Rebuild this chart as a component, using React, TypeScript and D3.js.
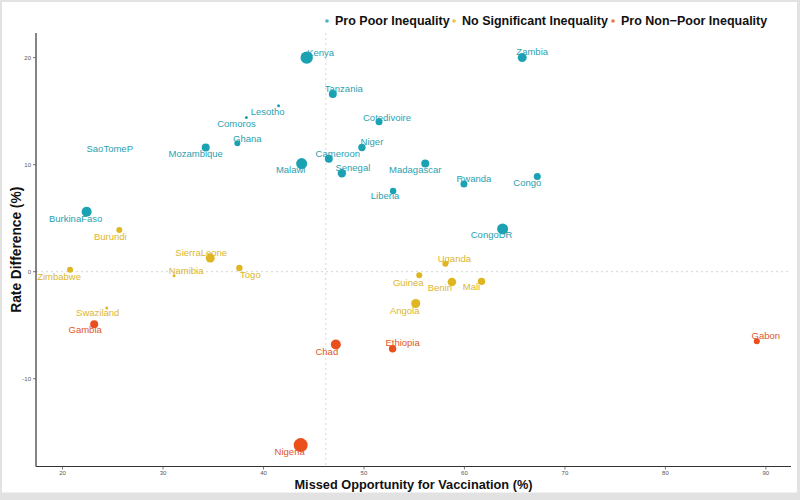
import React from "react";
import * as d3 from "d3";

// ---- data ----
const countries = [
  "Kenya", "Zambia", "Tanzania", "Lesotho", "Comoros", "Ghana", "Cotedivoire", "Niger",
  "Cameroon", "Malawi", "Senegal", "Madagascar", "Liberia", "Mozambique", "SaoTomeP",
  "BurkinaFaso", "Rwanda", "Congo", "CongoDR",
  "Burundi", "SierraLeone", "Zimbabwe", "Namibia", "Togo", "Swaziland", "Uganda",
  "Guinea", "Benin", "Mali", "Angola",
  "Gambia", "Chad", "Ethiopia", "Nigeria", "Gabon",
];
const missedOpportunity = [
  44.3, 65.75, 46.9, 41.5, 38.3, 37.4, 51.5, 49.8,
  46.5, 43.8, 47.8, 56.1, 52.9, 34.25, 24.7,
  22.4, 59.95, 67.25, 63.8,
  25.65, 34.7, 20.75, 31.1, 37.6, 24.4, 58.1,
  55.5, 58.75, 61.7, 55.15,
  23.15, 47.2, 52.85, 43.7, 89.1,
];
const rateDifference = [
  20.0, 20.0, 16.6, 15.5, 14.4, 12.0, 14.0, 11.6,
  10.55, 10.1, 9.2, 10.1, 7.55, 11.6, 11.5,
  5.6, 8.2, 8.9, 4.0,
  3.9, 1.27, 0.19, -0.37, 0.34, -3.4, 0.74,
  -0.34, -0.96, -0.9, -2.97,
  -4.9, -6.8, -7.2, -16.2, -6.5,
];
const sampleWeight = [
  6.2, 4.5, 4.0, 1.5, 1.5, 3.0, 3.5, 3.7,
  4.0, 5.5, 4.2, 4.0, 3.2, 4.0, 0,
  5.0, 3.5, 3.5, 5.5,
  3.0, 4.5, 3.0, 1.5, 3.2, 1.5, 3.0,
  3.0, 4.3, 3.7, 4.5,
  4.0, 5.0, 3.7, 7.0, 3.0,
];
const inequalityGroup = [
  0, 0, 0, 0, 0, 0, 0, 0,
  0, 0, 0, 0, 0, 0, 0,
  0, 0, 0, 0,
  1, 1, 1, 1, 1, 1, 1,
  1, 1, 1, 1,
  2, 2, 2, 2, 2,
];
const groupNames = ["Pro Poor Inequality", "No Significant Inequality", "Pro Non\u2212Poor Inequality"];
const xTicks = [20, 30, 40, 50, 60, 70, 80, 90];
const yTicks = [-10, 0, 10, 20];
const meanMissed = 46.2;

// ---- layout (label offsets from the point, in px) ----
const labelOffsets: Record<string, [number, number]> = {
  Kenya: [14, -5], Zambia: [10, -6], Tanzania: [11, -5], Lesotho: [-11, 6], Comoros: [-10, 6],
  Ghana: [10, -5], Cotedivoire: [8, -4], Niger: [10, -6], Cameroon: [9, -5], Malawi: [-11, 6],
  Senegal: [11, -6], Madagascar: [-10, 6], Liberia: [-8, 5], Mozambique: [-10, 6], SaoTomeP: [0, 0],
  BurkinaFaso: [-11, 7], Rwanda: [10, -5], Congo: [-10, 6], CongoDR: [-11, 6],
  Burundi: [-9, 7], SierraLeone: [-9, -5], Zimbabwe: [-11, 7], Namibia: [12, -5], Togo: [11, 7],
  Swaziland: [-9, 5], Uganda: [9, -5], Guinea: [-11, 7], Benin: [-12, 6], Mali: [-10, 5],
  Angola: [-11, 7], Gambia: [-9, 6], Chad: [-9, 7], Ethiopia: [10, -6], Nigeria: [-11, 7],
  Gabon: [9, -6],
};

const pointColors = ["#1ba2b2", "#e0b522", "#ea4f1c"];
const labelColors = ["#2b9fb0", "#dcb62e", "#e0582a"];

const W = 800;
const H = 500;
const left = 36;
const right = 791;
const top = 33;
const bottom = 466.5;

export default function App() {
  const x = d3.scaleLinear().domain([17.36, 92.5]).range([left, right]);
  const y = d3.scaleLinear().domain([-18.2, 22.3]).range([bottom, top]);
  const r = d3.scaleLinear().domain([0, 7]).range([0, 7]);

  const pts = countries.map((name, i) => ({
    name,
    mx: missedOpportunity[i],
    rd: rateDifference[i],
    w: sampleWeight[i],
    g: inequalityGroup[i],
  }));
  const order = [...pts].sort((a, b) => b.w - a.w);

  const font = "'Liberation Sans', Arial, Helvetica, sans-serif";

  return (
    <svg
      width={W}
      height={H}
      style={{ position: "fixed", top: 0, left: 0 }}
      fontFamily={font}
    >
      <rect x={0} y={0} width={W} height={H} fill="#e2e2e2" />
      <rect x={2} y={2} width={795} height={490.5} fill="#ffffff" />

      {/* reference lines */}
      <line x1={x(meanMissed)} x2={x(meanMissed)} y1={top} y2={bottom} stroke="#d4d4d4" strokeWidth={1} strokeDasharray="2,3" />
      <line x1={left} x2={right} y1={y(0)} y2={y(0)} stroke="#d4d4d4" strokeWidth={1} strokeDasharray="2,3" />

      {/* axes */}
      <line x1={left} x2={left} y1={top} y2={bottom} stroke="#333" strokeWidth={1.2} />
      <line x1={left} x2={right} y1={bottom} y2={bottom} stroke="#333" strokeWidth={1.2} />
      {xTicks.map((t) => (
        <g key={"xt" + t}>
          <line x1={x(t)} x2={x(t)} y1={bottom} y2={bottom + 3} stroke="#555" strokeWidth={0.8} />
          <text x={x(t)} y={bottom + 8.5} fontSize={6} fill="#555" textAnchor="middle">{t}</text>
        </g>
      ))}
      {yTicks.map((t) => (
        <g key={"yt" + t}>
          <line x1={left - 3} x2={left} y1={y(t)} y2={y(t)} stroke="#555" strokeWidth={0.8} />
          <text x={left - 5} y={y(t) + 2.2} fontSize={6} fill="#555" textAnchor="end">
            {t < 0 ? "-" + Math.abs(t) : t}
          </text>
        </g>
      ))}

      {/* axis titles */}
      <text
        x={(left + right) / 2}
        y={488.5}
        fontSize={13.5}
        fontWeight="bold"
        textAnchor="middle"
        fill="#111"
        textLength={238}
        lengthAdjust="spacingAndGlyphs"
      >
        Missed Opportunity for Vaccination (%)
      </text>
      <text
        transform={`translate(21,${(top + bottom) / 2}) rotate(-90)`}
        fontSize={14}
        fontWeight="bold"
        textAnchor="middle"
        fill="#111"
        textLength={126}
        lengthAdjust="spacingAndGlyphs"
      >
        Rate Difference (%)
      </text>

      {/* points */}
      {order.map((p) => (
        <circle key={"c" + p.name} cx={x(p.mx)} cy={y(p.rd)} r={r(p.w)} fill={pointColors[p.g]} />
      ))}

      {/* labels */}
      {pts.map((p) => {
        const off = labelOffsets[p.name] || [0, 0];
        return (
          <text
            key={"l" + p.name}
            x={x(p.mx) + off[0]}
            y={y(p.rd) + off[1] + 3.3}
            fontSize={9.5}
            textAnchor="middle"
            fill={labelColors[p.g]}
          >
            {p.name}
          </text>
        );
      })}

      {/* legend */}
      {groupNames.map((g, i) => {
        const lx = [327, 454, 613][i];
        return (
          <g key={"lg" + i}>
            <circle cx={lx} cy={21} r={1.8} fill={pointColors[i]} opacity={0.8} />
            <text x={lx + 8} y={25.3} fontSize={12.5} fontWeight="bold" fill="#111">{g}</text>
          </g>
        );
      })}
    </svg>
  );
}
